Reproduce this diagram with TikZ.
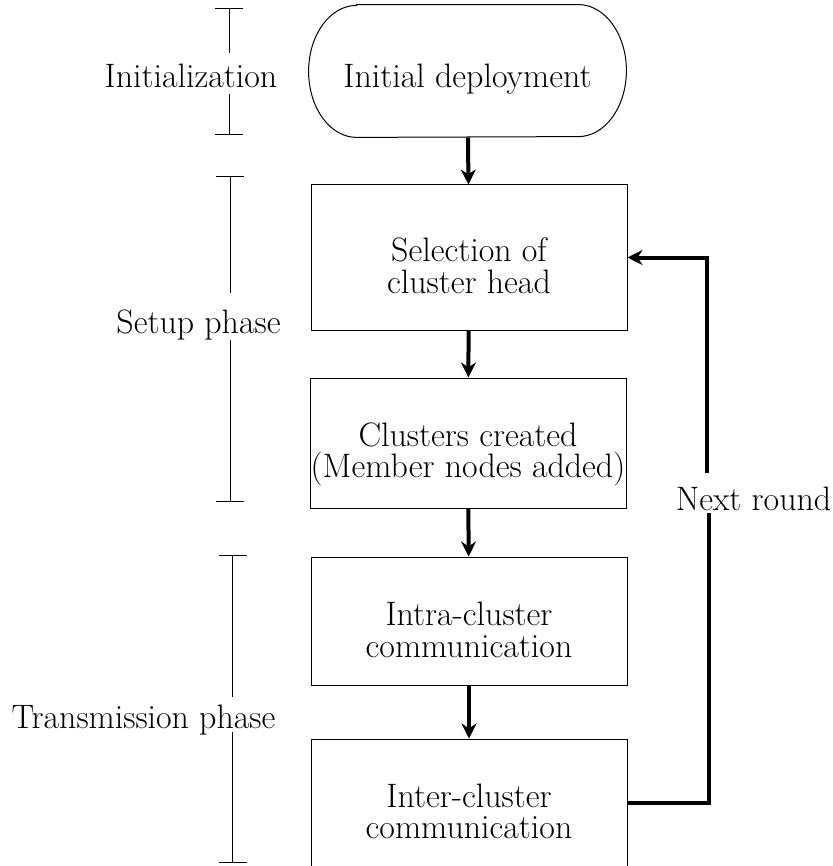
\documentclass[tikz,border=0pt]{standalone}
\usepackage{fontspec}
\usetikzlibrary{arrows.meta}
\begin{document}
\begin{tikzpicture}[x=0.5pt,y=-0.5pt,
  font=\fontsize{16.95pt}{15.75pt}\selectfont,
  stad/.style={minimum width=158.5pt, minimum height=66pt, inner sep=0pt},
  box/.style={draw, line width=0.5pt, minimum width=158pt, inner sep=0pt},
  txt/.style={align=center, inner sep=0pt},
  flow/.style={line width=2pt, -{Stealth[length=7.5pt,width=7.5pt]}},
  plainflow/.style={line width=2pt},
  brk/.style={line width=0.4pt},
  tick/.style={brk, {Bar[width=14pt]}-}
]
\useasboundingbox (0,0) rectangle (833,866);

% main column
\node[stad] (init) at (467.5,71) {};
\draw[line width=0.5pt] ([xshift=24pt]init.north west) -- ([xshift=-24pt]init.north east)
  arc[start angle=90, end angle=-90, x radius=24pt, y radius=33pt]
  -- ([xshift=24pt]init.south west)
  arc[start angle=270, end angle=90, x radius=24pt, y radius=33pt] -- cycle;
\node[txt, anchor=base] (tinit) at (467.5,88) {Initial deployment};

\node[box, minimum height=72.5pt] (b1) at (469,257.5) {};
\node[txt] (t1) at (469,265.8) {Selection of\\cluster head};

\node[box, minimum height=65pt] (b2) at (468,443) {};
\node[txt] (t2) at (468,454.5) {Clusters created\\(Member nodes added)};

\node[box, minimum height=64pt] (b3) at (469,621) {};
\node[txt] (t3) at (469,629.8) {Intra-cluster\\communication};

\node[box, minimum height=64pt] (b4) at (469,803) {};
\node[txt] (t4) at (469,811.3) {Inter-cluster\\communication};

\draw[flow] (init) -- (b1);
\draw[flow] (b1) -- (b2);
\draw[flow] (b2) -- (b3);
\draw[flow] (b3) -- (b4);

% feedback loop
\node[txt, anchor=base] (nr) at (753.5,510) {Next round};
\coordinate (f1) at (709,513);
\coordinate (f2) at (707,473);
\draw[plainflow, line join=miter] (b4.east) -| (f1);
\draw[flow, line join=miter] (f2) |- (b1.east);

% phase brackets
\node[txt, anchor=base] (linit) at (191,88) {Initialization};
\coordinate (ia) at (229,8);
\coordinate (ib) at (229,53);
\coordinate (ic) at (229,94);
\coordinate (id) at (229,135);
\draw[tick] (ia) -- (ib);
\draw[tick] (id) -- (ic);

\node[txt, anchor=base] (lsetup) at (198.5,333) {Setup phase};
\coordinate (sa) at (230,176);
\coordinate (sb) at (230,293);
\coordinate (sc) at (230,340);
\coordinate (sd) at (230,502);
\draw[tick] (sa) -- (sb);
\draw[tick] (sd) -- (sc);

\node[txt, anchor=base] (ltrans) at (143.5,728) {Transmission phase};
\coordinate (ta) at (232.5,555);
\coordinate (tb) at (232.5,697);
\coordinate (tc) at (232.5,732);
\coordinate (td) at (232.5,863);
\draw[tick] (ta) -- (tb);
\draw[tick] (td) -- (tc);
\end{tikzpicture}
\end{document}
